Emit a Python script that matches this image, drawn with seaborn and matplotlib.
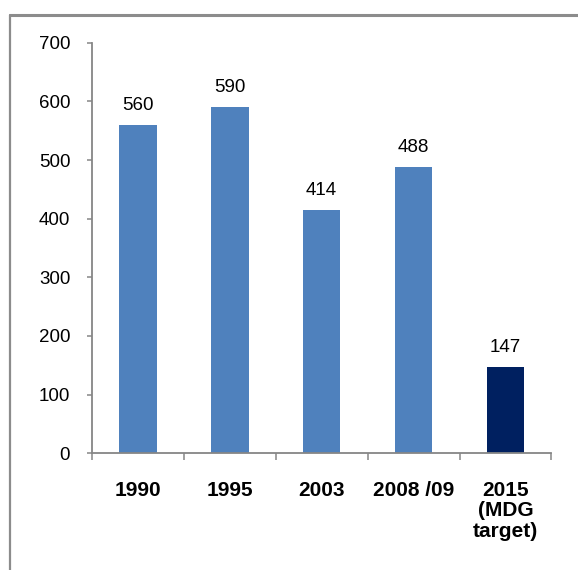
import matplotlib
matplotlib.use("Agg")
import matplotlib.pyplot as plt
from matplotlib.lines import Line2D
from matplotlib.ticker import FixedLocator
import seaborn as sns
import pandas as pd

# Maternal mortality ratio by survey year, with the MDG target
categories = ["1990", "1995", "2003", "2008 /09", "2015\n(MDG\ntarget)"]
values = [560, 590, 414, 488, 147]
bar_colors = ["#4F81BD", "#4F81BD", "#4F81BD", "#4F81BD", "#002060"]
y_ticks = [0, 100, 200, 300, 400, 500, 600, 700]

sns.set_theme(style="white")
plt.rcParams["font.family"] = ["Liberation Sans", "DejaVu Sans"]

df = pd.DataFrame({"period": categories, "value": values})

fig = plt.figure(figsize=(5.78, 5.70), dpi=100)
ax = fig.add_axes([0.159, 0.205, 0.795, 0.72])

sns.barplot(data=df, x="period", y="value", hue="period",
            palette=bar_colors, legend=False, width=0.41,
            saturation=1, edgecolor="none", ax=ax)

ax.set_xlim(-0.5, len(categories) - 0.5)
ax.set_ylim(0, 700)
ax.set_yticks(y_ticks)
ax.set_xlabel("")
ax.set_ylabel("")

# value labels above bars
for i, v in enumerate(values):
    ax.annotate(f"{v}", xy=(i, v), xytext=(0, 8), textcoords="offset points",
                ha="center", va="bottom", fontsize=13.5, color="#000000")

axis_gray = "#868686"
for side in ["top", "right"]:
    ax.spines[side].set_visible(False)
for side in ["left", "bottom"]:
    ax.spines[side].set_color(axis_gray)
    ax.spines[side].set_linewidth(1.3)

ax.tick_params(axis="y", which="major", direction="out", length=3.6,
               width=1.1, color=axis_gray, pad=12, labelsize=13.5,
               labelcolor="#000000", left=True)
ax.tick_params(axis="x", which="major", length=0, pad=20, labelsize=15,
               labelcolor="#000000")
# tick marks sit between categories
ax.xaxis.set_minor_locator(FixedLocator([i - 0.5 for i in range(len(categories) + 1)]))
ax.tick_params(axis="x", which="minor", direction="out", length=5,
               width=1.1, color=axis_gray, bottom=True)
for lbl in ax.get_xticklabels():
    lbl.set_fontweight("bold")
    lbl.set_linespacing(1.1)
    lbl.set_verticalalignment("top")

# frame lines on the top and left of the figure
frame_gray = "#8C8C8C"
fx = 10 / 578
fy = 1 - 15 / 570
fig.add_artist(Line2D([fx, fx], [0, fy], transform=fig.transFigure,
                      color=frame_gray, lw=1.6))
fig.add_artist(Line2D([fx, 1], [fy, fy], transform=fig.transFigure,
                      color=frame_gray, lw=2.2))

fig.savefig("out.png", dpi=100, facecolor="white")
